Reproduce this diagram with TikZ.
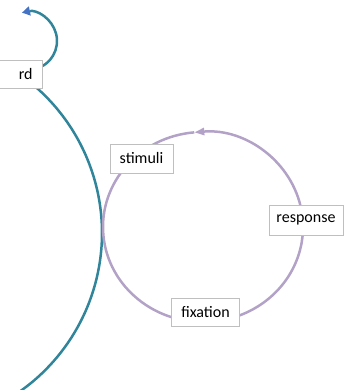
\documentclass[tikz,border=0pt]{standalone}
\usepackage{fontspec}
\setmainfont{Carlito}
\usetikzlibrary{arrows.meta}
\definecolor{cyclepurple}{RGB}{179,162,199}
\definecolor{outerteal}{RGB}{49,133,155}
\definecolor{tipblue}{RGB}{68,114,196}
\definecolor{boxgray}{RGB}{191,191,191}
\begin{document}
\begin{tikzpicture}[x=1pt,y=-1pt,
  label box/.style={draw=boxgray, line width=0.75pt, fill=white, inner sep=0pt,
    font=\fontsize{16}{19}\selectfont, text=black},
  purple arc/.style={draw=cyclepurple, line width=2.5pt},
  teal arc/.style={draw=outerteal, line width=2.5pt}]
\useasboundingbox (0,0) rectangle (345,390);
\clip (0,0) rectangle (345,390);

% outer cycle: large arc and the small returning arc
\draw[teal arc] (-92,233) ++(-55:194) arc[start angle=-55, end angle=60, radius=194];
\draw[teal arc, -{Triangle[length=8pt, width=9pt, color=tipblue]}]
  (28,41) ++(75:29) arc[start angle=75, end angle=-102, radius=29];

% inner cycle
\draw[purple arc, -{Triangle[length=10pt, width=7pt]}]
  (203,227) ++(-10:100 and 95) arc[start angle=-10, end angle=-95, x radius=100, y radius=95];
\draw[purple arc]
  (203,227) ++(-95:100 and 95) arc[start angle=-95, end angle=-370, x radius=100, y radius=95];

% labels
\node[label box, minimum width=63pt, minimum height=29pt] (stimuli) at (141.5,158.5) {stimuli};
\node[label box, minimum width=74pt, minimum height=30pt] (response) at (306,220) {response};
\node[label box, minimum width=68pt, minimum height=28pt] (fixation) at (205.5,312.5) {fixation};
\node[label box, anchor=east, minimum height=28pt, text width=60pt, align=right,
  inner xsep=10pt] (outer) at (43,74) {rd};
\end{tikzpicture}
\end{document}
